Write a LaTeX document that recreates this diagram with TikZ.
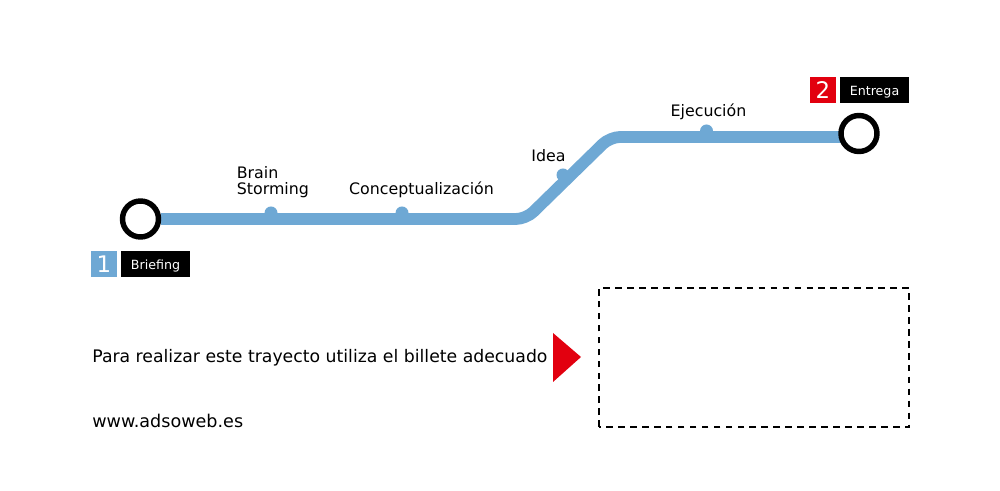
\documentclass[tikz,border=0pt]{standalone}
\usepackage{fontspec}
\setmainfont{DejaVu Sans}
\usetikzlibrary{backgrounds}
\definecolor{lineblue}{RGB}{110,168,212}
\definecolor{ticketred}{RGB}{226,0,15}
\tikzstyle{route}=[lineblue, line width=6.7pt, rounded corners=0.2cm]
\tikzstyle{terminal}=[circle, draw=black, line width=3.1pt, fill=white, minimum size=0.72cm, inner sep=0pt]
\tikzstyle{halt}=[circle, fill=lineblue, minimum size=0.26cm, inner sep=0pt]
\tikzstyle{num}=[minimum width=0.52cm, minimum height=0.52cm, inner sep=0pt, text=white, font=\fontsize{13pt}{13pt}\selectfont]
\tikzstyle{tag}=[fill=black, minimum width=1.38cm, minimum height=0.52cm, inner sep=0pt, text=white, text height=6.6pt, text depth=0.6pt, font=\fontsize{7.2pt}{8pt}\selectfont]
\tikzstyle{stopname}=[inner sep=0pt, align=left, font=\fontsize{9pt}{9.2pt}\selectfont]
\tikzstyle{caption}=[inner sep=0pt, anchor=west, font=\fontsize{9.83pt}{11pt}\selectfont]
\begin{document}
\begin{tikzpicture}
	\useasboundingbox (0,0) rectangle (20,9.82);
	%The line
	\coordinate (bend1) at (10.52,5.44);
	\coordinate (bend2) at (12.2,7.08);
	\node[terminal] (start) at (2.81,5.44) {};
	\node[terminal] (end) at (17.18,7.15) {};
	\begin{scope}[on background layer]
	\draw[route] (start) -- (bend1) -- (bend2) -- (end.center |- bend2);
	\end{scope}

	%The stops
	\node[halt] (brain) at (5.42,5.56) {};
	\node[halt] (concept) at (8.04,5.56) {};
	\node[halt] (idea) at (11.26,6.32) {};
	\node[halt] (ejec) at (14.13,7.2) {};

	%The stop names
	\node[stopname, anchor=base west] (brainname) at (4.73,5.92) {Brain\\Storming};
	\node[stopname, anchor=base] (conceptname) at (8.43,5.92) {Conceptualización};
	\node[stopname, anchor=base] (ideaname) at (10.97,6.58) {Idea};
	\node[stopname, anchor=base] (ejecname) at (14.17,7.49) {Ejecución};

	%The ends
	\node[num, fill=lineblue] (n1) at (2.08,4.54) {1};
	\node[tag] (t1) at (3.11,4.54) {Briefing};
	\node[num, fill=ticketred] (n2) at (16.46,8.02) {2};
	\node[tag] (t2) at (17.49,8.02) {Entrega};

	%The ticket
	\node[caption] (para) at (1.84,2.66) {Para realizar este trayecto utiliza el billete adecuado};
	\node[caption, font=\fontsize{10pt}{11pt}\selectfont] (web) at (1.84,1.4) {www.adsoweb.es};
	\fill[ticketred] (11.06,3.16) -- (11.62,2.68) -- (11.06,2.18) -- cycle;
	\draw[line width=0.8pt, dash pattern=on 3.8pt off 3pt] (11.98,1.28) rectangle (18.18,4.06);
\end{tikzpicture}
\end{document}
